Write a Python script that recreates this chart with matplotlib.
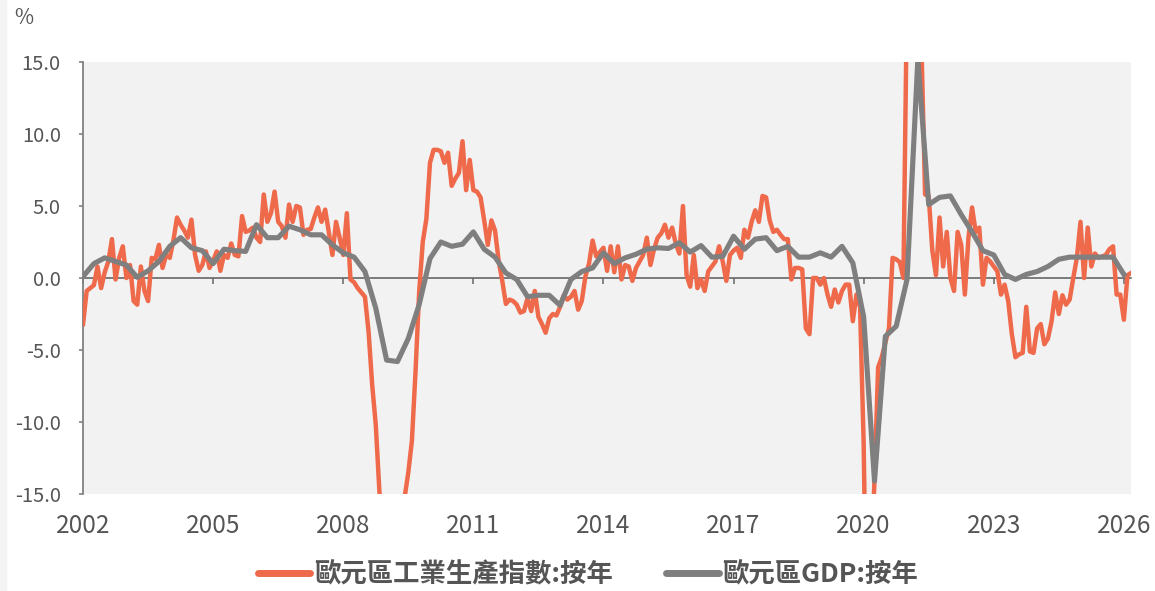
import numpy as np
import matplotlib.pyplot as plt
from matplotlib.patches import Rectangle

plt.rcParams['font.family'] = ['Noto Sans CJK TC', 'DejaVu Sans']

# euro area industrial production, yoy %, monthly from Jan 2002
ip_yoy = [
    -3.2, -0.9, -0.7, -0.5, 0.8, -0.7, 0.4, 1.15, 2.7, -0.1, 1.4, 2.2,
    0.0, 0.9, -1.6, -1.85, 0.8, -0.9, -1.6, 1.4, 1.3, 2.3, 0.7, 1.6,
    1.4, 2.6, 4.2, 3.7, 3.3, 2.8, 4.05, 1.6, 0.5, 0.9, 1.85, 0.7,
    1.2, 1.85, 0.5, 1.6, 1.4, 2.4, 1.6, 1.5, 4.3, 3.2, 3.3, 3.5,
    2.8, 2.5, 5.8, 3.9, 4.5, 6.0, 3.9, 3.6, 2.8, 5.1, 3.9, 5.0,
    4.9, 3.0, 3.35, 3.4, 4.2, 4.9, 3.9, 4.75, 3.2, 1.6, 3.9, 2.8,
    1.6, 4.5, -0.1, -0.3, -0.7, -1.0, -1.3, -3.7, -7.4, -10.2, -14.8, -17.5,
    -19.0, -20.0, -21.0, -19.0, -17.0, -15.2, -13.5, -11.3, -6.5, -1.0, 2.5, 4.1,
    8.0, 8.9, 8.9, 8.8, 8.0, 8.7, 6.4, 6.9, 7.3, 9.5, 6.1, 8.2,
    6.1, 6.0, 5.6, 4.0, 2.3, 4.0, 3.3, 1.2, -0.2, -1.8, -1.5, -1.6,
    -1.85, -2.4, -2.3, -1.4, -2.3, -0.9, -2.7, -3.2, -3.8, -2.8, -2.5, -2.6,
    -2.0, -1.2, -1.5, -1.3, -0.9, -2.2, -1.6, 0.1, 1.0, 2.6, 1.5, 1.8,
    2.1, 0.5, 2.2, 0.4, 2.2, -0.1, 0.9, 0.8, -0.2, 0.7, 1.15, 1.6,
    2.8, 0.9, 2.0, 2.8, 3.1, 3.7, 2.8, 3.5, 2.4, 1.7, 5.0, 0.2,
    -0.6, 1.6, -0.7, -0.1, -0.9, 0.46, 0.8, 1.15, 2.2, 1.15, -0.2, 1.6,
    1.9, 2.1, 1.4, 3.35, 2.8, 3.9, 4.7, 3.9, 5.7, 5.6, 4.0, 3.2,
    3.35, 3.0, 2.7, 2.7, -0.1, 0.7, 0.7, 0.6, -3.5, -3.9, 0.0, 0.0,
    -0.46, 0.0, -1.15, -2.0, -0.8, -1.7, -0.9, -0.46, -0.46, -3.0, -1.15, -2.0,
    -11.5, -28.0, -20.5, -14.0, -6.2, -5.5, -4.5, -3.5, 1.4, 1.3, 1.1, 0.0,
    20.0, 39.0, 22.0, 18.0, 16.0, 5.8, 5.7, 1.9, 0.2, 4.2, 0.8, 3.2,
    0.0, -0.9, 3.2, 2.3, -1.15, 2.8, 4.9, 3.2, 3.5, -0.46, 1.4, 1.15,
    0.8, 0.46, -1.15, -0.46, -1.6, -3.9, -5.5, -5.3, -5.2, -2.0, -5.1, -5.2,
    -3.5, -3.2, -4.6, -4.2, -3.0, -1.0, -2.5, -1.2, -1.85, -1.5, 0.0, 1.4,
    3.9, 0.0, 3.5, 0.8, 1.7, 1.4, 1.5, 1.6, 2.0, 2.2, -1.15, -1.15,
    -2.9, 0.2, 0.35,
]

# euro area GDP, yoy %, quarterly from 2002
gdp_yoy = [
    0.1, 1.0, 1.4, 1.15, 0.9, 0.05, 0.5, 1.15,
    2.2, 2.8, 2.1, 1.9, 1.0, 2.0, 1.9, 1.85,
    3.7, 2.8, 2.8, 3.6, 3.35, 3.0, 3.0, 2.3,
    1.75, 1.45, 0.45, -2.1, -5.7, -5.8, -4.2, -1.85,
    1.35, 2.5, 2.2, 2.35, 3.2, 2.0, 1.45, 0.35,
    -0.1, -1.3, -1.2, -1.2, -1.9, -0.1, 0.45, 0.7,
    1.75, 1.0, 1.4, 1.65, 2.0, 2.1, 2.05, 2.45,
    1.8, 2.25, 1.45, 1.5, 2.9, 2.0, 2.7, 2.8,
    1.9, 2.2, 1.45, 1.45, 1.75, 1.45, 2.2, 1.05,
    -2.7, -14.1, -4.05, -3.35, -0.1, 15.2, 5.1, 5.6,
    5.7, 4.4, 3.2, 1.9, 1.6, 0.25, -0.1, 0.25,
    0.45, 0.8, 1.3, 1.45, 1.45, 1.45, 1.45, 1.45,
    0.25,
]

year_ticks = [2002, 2005, 2008, 2011, 2014, 2017, 2020, 2023, 2026]
y_ticks = [-15, -10, -5, 0, 5, 10, 15]
series_names = ['歐元區工業生產指數:按年', '歐元區GDP:按年']

ip_t = 2002 + np.arange(len(ip_yoy)) / 12
gdp_t = 2002 + np.arange(len(gdp_yoy)) / 4

fig = plt.figure(figsize=(11.55, 5.91), dpi=100)
fig.patches.append(Rectangle((0, 0), 6 / 1155, 1, transform=fig.transFigure,
                             color='#f4f4f4', zorder=0))

ax = fig.add_axes([0.0719, 0.1641, 0.9074, 0.7310])
ax.set_facecolor('#f2f2f2')
ax.plot(ip_t, ip_yoy, color='#ef694b', lw=3.2, label=series_names[0], zorder=3)
ax.plot(gdp_t, gdp_yoy, color='#7f7f7f', lw=3.7, label=series_names[1], zorder=4)

ax.set_xlim(ip_t[0], ip_t[-1])
ax.set_ylim(-15, 15)
ax.set_yticks(y_ticks)
ax.set_yticklabels([f'{v:.1f}' for v in y_ticks])
ax.set_xticks(year_ticks)
ax.set_xticklabels([str(y) for y in year_ticks])

for s in ['top', 'right', 'bottom']:
    ax.spines[s].set_visible(False)
ax.spines['left'].set_color('#808080')
ax.spines['left'].set_linewidth(1.3)
ax.tick_params(axis='y', direction='out', length=3, width=1.2, color='#808080',
               labelsize=14.5, labelcolor='#555555', pad=13)
ax.tick_params(axis='x', length=0, labelsize=17.5, labelcolor='#555555', pad=14)

# zero line with year ticks hanging below it
sec = ax.secondary_xaxis(0.5)
sec.set_alignment('bottom')
sec.set_xticks(year_ticks)
sec.tick_params(direction='out', length=4, width=1.1, color='#666666',
                labelbottom=False, labeltop=False)
sec.spines['bottom'].set_color('#666666')
sec.spines['bottom'].set_linewidth(1.2)

fig.text(24 / 1155, 1 - 18.5 / 591, '%', ha='center', va='center',
         fontsize=15, color='#555555')

leg = fig.legend(loc='center', bbox_to_anchor=(588 / 1155, 1 - 575 / 591), ncol=2,
                 frameon=False, handlelength=2.0, handletextpad=0.15, columnspacing=2.0,
                 prop={'size': 19, 'weight': 'bold'})
for t in leg.get_texts():
    t.set_color('#555555')
for h in leg.get_lines():
    h.set_linewidth(5)
    h.set_solid_capstyle('round')

fig.savefig('out.png', dpi=100)
